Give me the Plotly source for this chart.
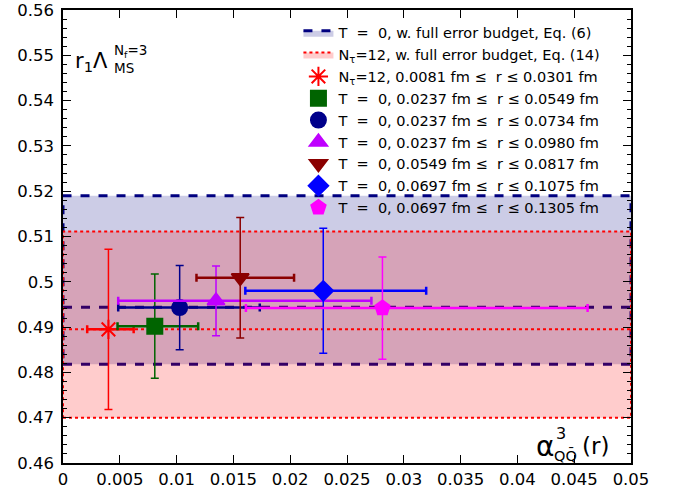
import plotly.graph_objects as go

# ---- data ----
band_x = [0.0, 0.05]
band_T0 = {"lo": 0.4818, "mid": 0.4944, "hi": 0.5190}
band_N12 = {"lo": 0.4700, "mid": 0.4895, "hi": 0.5111}

labels = [
    "N<sub>τ</sub>=12, 0.0081 fm ≤\u00a0 r ≤ 0.0301 fm",
    "T\u00a0 = \u00a00, 0.0237 fm ≤\u00a0 r ≤ 0.0549 fm",
    "T\u00a0 = \u00a00, 0.0237 fm ≤\u00a0 r ≤ 0.0734 fm",
    "T\u00a0 = \u00a00, 0.0237 fm ≤\u00a0 r ≤ 0.0980 fm",
    "T\u00a0 = \u00a00, 0.0549 fm ≤\u00a0 r ≤ 0.0817 fm",
    "T\u00a0 = \u00a00, 0.0697 fm ≤\u00a0 r ≤ 0.1075 fm",
    "T\u00a0 = \u00a00, 0.0697 fm ≤\u00a0 r ≤ 0.1305 fm",
]
x_vals = [0.00400, 0.00808, 0.01027, 0.01347, 0.01560, 0.02291, 0.02812]
x_err_minus = [0.00187, 0.00328, 0.00541, 0.00861, 0.00385, 0.00686, 0.01202]
x_err_plus = [0.00222, 0.00382, 0.00705, 0.01368, 0.00474, 0.00906, 0.01806]
y_vals = [0.4895, 0.4902, 0.4943, 0.4958, 0.5009, 0.4980, 0.4942]
y_err = [0.0177, 0.0115, 0.0093, 0.0077, 0.0133, 0.0138, 0.0113]

colors = ["#ff0000", "#006400", "#00008b", "#bf00ff", "#8b0000", "#0000ff", "#ff00ff"]
symbols = ["asterisk-open", "square", "circle", "triangle-up", "triangle-down", "diamond", "pentagon"]
sizes = [16, 15, 15, 15, 15, 15, 15]

x_ticks = [0, 0.005, 0.01, 0.015, 0.02, 0.025, 0.03, 0.035, 0.04, 0.045, 0.05]
x_ticktext = ["0", "0.005", "0.01", "0.015", "0.02", "0.025", "0.03", "0.035", "0.04", "0.045", "0.05"]
y_ticks = [0.46, 0.47, 0.48, 0.49, 0.50, 0.51, 0.52, 0.53, 0.54, 0.55, 0.56]
y_ticktext = ["0.46", "0.47", "0.48", "0.49", "0.5", "0.51", "0.52", "0.53", "0.54", "0.55", "0.56"]

FONT = "DejaVu Sans"
fig = go.Figure()

def band(b, name, line_col, fill_col, dash, width):
    fig.add_trace(go.Scatter(
        x=[band_x[0], band_x[1], band_x[1], band_x[0], band_x[0]],
        y=[b["lo"], b["lo"], b["hi"], b["hi"], b["lo"]],
        fill="toself", fillcolor=fill_col, mode="lines",
        line=dict(color=line_col, dash=dash, width=width),
        name=name, hoverinfo="skip"))
    fig.add_trace(go.Scatter(
        x=band_x, y=[b["mid"], b["mid"]], mode="lines",
        line=dict(color=line_col, dash=dash, width=width),
        showlegend=False, hoverinfo="skip"))

band(band_T0, "T\u00a0 = \u00a00, w. full error budget, Eq. (6)",
     "#000080", "rgba(0,0,128,0.2)", "dash", 3)
band(band_N12, "N<sub>τ</sub>=12, w. full error budget, Eq. (14)",
     "#ff0000", "rgba(255,0,0,0.2)", "dot", 2)

for i in range(len(x_vals)):
    fig.add_trace(go.Scatter(
        x=[x_vals[i]], y=[y_vals[i]], mode="markers", name=labels[i],
        marker=dict(color=colors[i], symbol=symbols[i], size=sizes[i],
                    line=dict(color=colors[i], width=2)),
        error_x=dict(type="data", symmetric=False, array=[x_err_plus[i]],
                     arrayminus=[x_err_minus[i]], color=colors[i], thickness=2.5, width=4),
        error_y=dict(type="data", array=[y_err[i]], color=colors[i], thickness=1.5, width=4),
    ))

axis_common = dict(showgrid=False, zeroline=False, showline=True, linecolor="black",
                   linewidth=1.5, mirror="allticks", ticks="inside", ticklen=8,
                   tickcolor="black", automargin=False,
                   tickfont=dict(family=FONT, size=16.5, color="black"))

fig.update_xaxes(range=[0, 0.05], tickvals=x_ticks, ticktext=x_ticktext, **axis_common)
fig.update_yaxes(range=[0.46, 0.56], tickvals=y_ticks, ticktext=y_ticktext,
                 minor=dict(dtick=0.002, ticks="inside", ticklen=4, tickcolor="black"),
                 ticklabelstandoff=4, **axis_common)

ann = []
def A(text, x, y, size, xanchor="center"):
    ann.append(dict(text=text, x=x, y=y, xref="paper", yref="paper", showarrow=False,
                    xanchor=xanchor, yanchor="middle", font=dict(family=FONT, size=size, color="black")))

A("r<sub>1</sub>Λ", 0.018, 0.885, 21, "left")
A("N<sub>f</sub>=3", 0.086, 0.909, 13.5, "left")
A("MS", 0.086, 0.872, 13.5, "left")
A("α", 0.849, 0.037, 28)
A("3", 0.876, 0.066, 16)
A("QQ\u0304", 0.885, 0.016, 14.5)
A("(r)", 0.938, 0.038, 23)

fig.update_layout(
    width=679, height=493, margin=dict(l=63, r=48, t=10, b=30),
    plot_bgcolor="white", paper_bgcolor="white",
    font=dict(family=FONT, size=15, color="black"),
    annotations=ann,
    legend=dict(x=0.955, xanchor="right", y=0.985, yanchor="top",
                bgcolor="rgba(0,0,0,0)", font=dict(family=FONT, size=14.5),
                tracegroupgap=0, itemwidth=30),
)

fig.write_html("out.html", config={"displayModeBar": False},
               post_script="document.body.style.margin='0';")
